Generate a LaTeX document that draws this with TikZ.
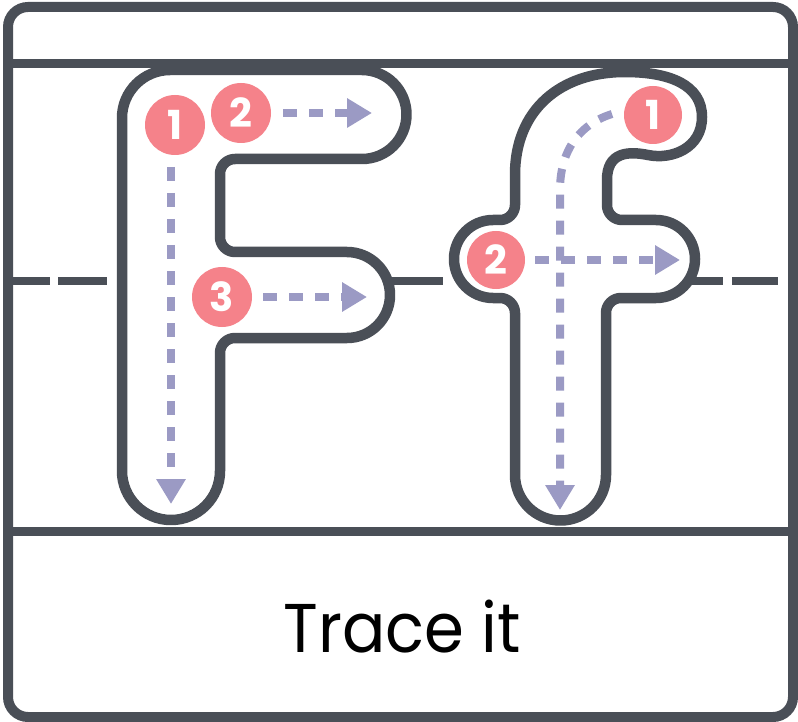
\documentclass[tikz,border=0pt]{standalone}
\usepackage{fontspec}
\usepackage{graphicx}
\setmainfont{Poppins}
\usetikzlibrary{arrows.meta}
\definecolor{ink}{RGB}{74,79,87}
\definecolor{pinkc}{RGB}{245,130,138}
\definecolor{lilac}{RGB}{155,154,196}
\tikzset{
  letter/.style={draw=ink, line width=10.5pt, fill=white, line join=round},
  guide/.style={draw=ink, line width=9pt},
  midguide/.style={draw=ink, line width=8pt},
  num/.style={circle, fill=pinkc, minimum size=60pt, inner sep=0pt, text=white,
    font=\bfseries\fontsize{40}{40}\selectfont},
  arr/.style={draw=lilac, line width=8pt, dash pattern=on 14pt off 12pt,
    -{Triangle[length=25pt,width=28pt]}},
}
\begin{document}
\begin{tikzpicture}[x=1pt,y=-1pt]
\useasboundingbox (0,0) rectangle (798,722);
% frame
\draw[draw=ink, line width=10pt, fill=white, rounded corners=20pt] (8,7) rectangle (793,717);
% guide lines
\draw[guide] (8,64) -- (793,64);
\draw[guide] (8,531) -- (793,531);
\draw[midguide] (8,281) -- (50,281);
\draw[midguide] (58,281) -- (107,281);
\draw[midguide] (390,281) -- (443,281);
\draw[midguide] (690,281) -- (723,281);
\draw[midguide] (732,281) -- (778,281);
% letter F
\draw[letter] (122,471) -- (122,118) arc[start angle=180,end angle=270,radius=48]
  -- (362,70) arc[start angle=-90,end angle=90,radius=44.5]
  -- (235,159) arc[start angle=-90,end angle=-180,radius=15]
  -- (220,237) arc[start angle=180,end angle=90,radius=15]
  -- (347,252) arc[start angle=-90,end angle=90,radius=43]
  -- (235,338) arc[start angle=-90,end angle=-180,radius=15]
  -- (220,471) arc[start angle=0,end angle=180,radius=49] -- cycle;
% letter f
\draw[letter] (515,475) -- (515,313) arc[start angle=0,end angle=-90,radius=15]
  -- (493,298) arc[start angle=90,end angle=270,radius=39]
  -- (500,220) arc[start angle=90,end angle=0,radius=15]
  -- (515,175) .. controls (515,110) and (560,72) .. (625,72)
  .. controls (670,72) and (702,85) .. (702,117)
  .. controls (702,148) and (672,160) .. (648,155)
  .. controls (628,151) and (607,152) .. (607,180)
  -- (607,205) arc[start angle=180,end angle=90,radius=15]
  -- (656,220) arc[start angle=-90,end angle=90,radius=39]
  -- (621,298) arc[start angle=-90,end angle=-180,radius=15]
  -- (606,475) arc[start angle=0,end angle=180,radius=45.5] -- cycle;
% number circles
\node[num] (F1) at (175,125) {1};
\node[num] (F2) at (241,113) {2};
\node[num] (F3) at (222,297) {3};
\node[num, minimum size=58pt] (f1) at (653,115) {1};
\node[num, minimum size=58pt] (f2) at (496,260) {2};
% arrow end points
\coordinate (F1s) at (171,167);
\coordinate (F1e) at (171,504);
\coordinate (F2e) at (372,113);
\coordinate (F3e) at (367,297);
\coordinate (f1s) at (612,114);
\coordinate (f1m) at (560,190);
\coordinate (f1e) at (560,510);
\coordinate (f2e) at (680,260);
% arrows
\draw[arr] (F1s) -- (F1e);
\draw[arr] ([xshift=12pt]F2.east) -- (F2e);
\draw[arr] ([xshift=11pt]F3.east) -- (F3e);
\draw[arr] (f1s) .. controls (580,124) and (560,150) .. (f1m) -- (f1e);
\draw[arr] ([xshift=10pt]f2.east) -- (f2e);
% caption
\node[anchor=base, font=\fontsize{69}{69}\selectfont, text=black, inner sep=0pt] (cap) at (402,652) {\scalebox{0.93}[1]{Trace it}};
\end{tikzpicture}
\end{document}
